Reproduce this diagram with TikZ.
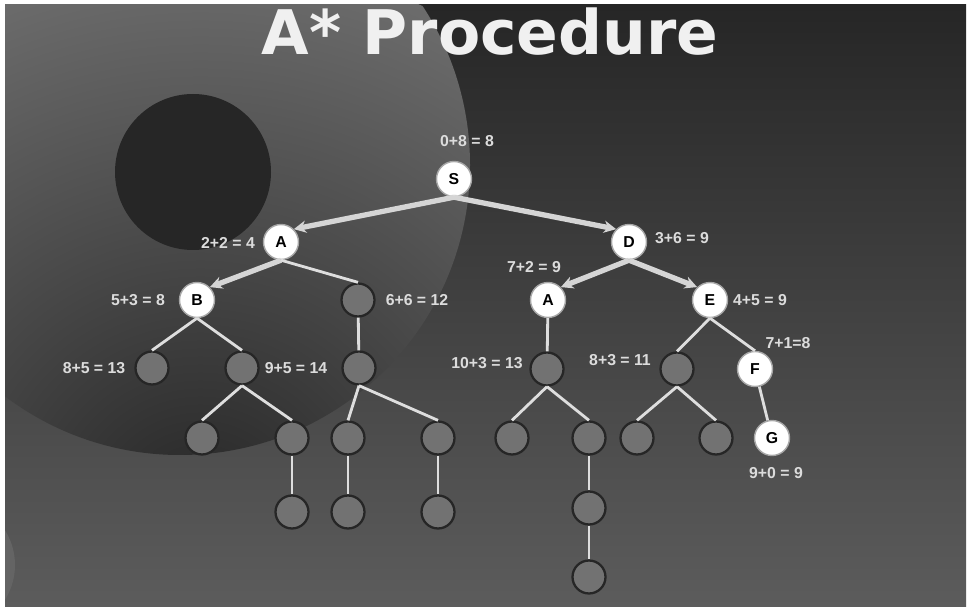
\documentclass[tikz,border=0pt]{standalone}
\usepackage{fontspec}
\setmainfont{Liberation Sans}
\newfontfamily\titlefont{DejaVu Sans}
\usetikzlibrary{arrows.meta,positioning,shadows}
\definecolor{bgdark}{HTML}{262626}
\definecolor{bgmid}{HTML}{2E2E2E}
\definecolor{bglight}{HTML}{5C5C5C}
\definecolor{ringlight}{HTML}{6C6C6C}
\definecolor{nodegray}{HTML}{727272}
\definecolor{linegray}{HTML}{DEDEDE}
\definecolor{txtgray}{HTML}{DCDCDC}

\begin{document}
\begin{tikzpicture}[x=0.02cm, y=-0.02cm,
            > = {Stealth[length=7pt,width=7pt]},
every edge/.append style = {draw=linegray, line width=1.6pt},
 visited/.style = {circle, fill=white, draw=gray!70, line width=0.8pt, inner sep=0pt,
                   minimum size=0.7cm, font=\bfseries\fontsize{9}{10}\selectfont, text=black},
    open/.style = {circle, fill=nodegray, draw=black!85, line width=1.3pt, inner sep=0pt,
                   minimum size=0.66cm},
     lbl/.style = {text=txtgray, font=\bfseries\fontsize{9}{10}\selectfont, inner sep=0pt},
   route/.style = {->, line width=3pt, draw=linegray!90!gray}
]
\useasboundingbox (0,0) rectangle (967,607);
% background
\fill[white] (0,0) rectangle (967,607);
\shade[top color=bgdark, middle color=bgmid, bottom color=bglight] (5,5) rectangle (966,607);
\begin{scope}
  \clip (5,5) rectangle (966,607);
  \clip (180,165) circle (290);
  \shade[inner color=bgdark, outer color=ringlight] (200,520) circle (560);
  \fill[bgdark] (193,172) circle (78);
\end{scope}
\begin{scope}
  \clip (5,5) rectangle (966,607);
  \fill[bglight!95!white] (-50,565) circle (65);
\end{scope}

% title
\node (T) [anchor=base, text=white!94!black, font=\titlefont\bfseries\fontsize{35}{40}\selectfont] at (490,55) {A* Procedure};

% tree
\node (S)  [visited] at (454,179) {S};
\node (A)  [visited] at (281,242) {A};
\node (D)  [visited] at (629,242) {D};
\node (B)  [visited] at (197,300) {B};
\node (n1) [open]    at (358,300) {};
\node (A2) [visited] at (548,300) {A};
\node (E)  [visited] at (710,300) {E};
\node (n2) [open]    at (152,368) {};
\node (n3) [open]    at (242,368) {};
\node (n4) [open]    at (359,368) {};
\node (n5) [open]    at (547,369) {};
\node (n6) [open]    at (677,369) {};
\node (F)  [visited] at (755,369) {F};
\node (n7) [open]    at (202,438) {};
\node (n8) [open]    at (292,438) {};
\node (n9) [open]    at (348,438) {};
\node (n10)[open]    at (438,438) {};
\node (n11)[open]    at (512,438) {};
\node (n12)[open]    at (589,438) {};
\node (n13)[open]    at (637,438) {};
\node (n14)[open]    at (716,438) {};
\node (G)  [visited] at (772,438) {G};
\node (n15)[open]    at (292,512) {};
\node (n16)[open]    at (348,512) {};
\node (n17)[open]    at (438,512) {};
\node (n18)[open]    at (589,508) {};
\node (n19)[open]    at (589,577) {};

% costs
\node (cS)  [lbl] at (467,141) {0+8 = 8};
\node (cA)  [lbl] at (228,243) {2+2 = 4};
\node (cD)  [lbl] at (682,238) {3+6 = 9};
\node (cA2) [lbl] at (534,267) {7+2 = 9};
\node (cB)  [lbl] at (138,300) {5+3 = 8};
\node (c1)  [lbl] at (417,300) {6+6 = 12};
\node (cE)  [lbl] at (760,300) {4+5 = 9};
\node (cF)  [lbl] at (788,343) {7+1=8};
\node (c2)  [lbl] at (94,368)  {8+5 = 13};
\node (c3)  [lbl] at (296,368) {9+5 = 14};
\node (c5)  [lbl] at (487,363) {10+3 = 13};
\node (c6)  [lbl] at (620,360) {8+3 = 11};
\node (cG)  [lbl] at (776,473) {9+0 = 9};

\path
        (S.south) edge [route]   (D.north west)
        (S.south) edge [route]   (A.north east)
        (A.south) edge [route]   (B.north east)
        (D.south) edge [route]   (A2.north east)
        (D.south) edge [route]   (E.north west)
        (A.south) edge           (n1.north)
        (B.south) edge           (n2.north)
        (B.south) edge           (n3.north)
        (n1) edge                (n4)
        (E.south) edge           (n6.north)
        (E.south) edge           (F.north)
        (A2) edge                (n5)
        (n3.south) edge          (n7.north)
        (n3.south) edge          (n8.north)
        (n4.south) edge          (n9.north)
        (n4.south) edge          (n10.north)
        (n5.south) edge          (n11.north)
        (n5.south) edge          (n12.north)
        (n6.south) edge          (n13.north)
        (n6.south) edge          (n14.north)
        (F) edge                 (G)
        (n8) edge                (n15)
        (n9) edge                (n16)
        (n10) edge               (n17)
        (n12) edge               (n18)
        (n18) edge               (n19);

\end{tikzpicture}
\end{document}
